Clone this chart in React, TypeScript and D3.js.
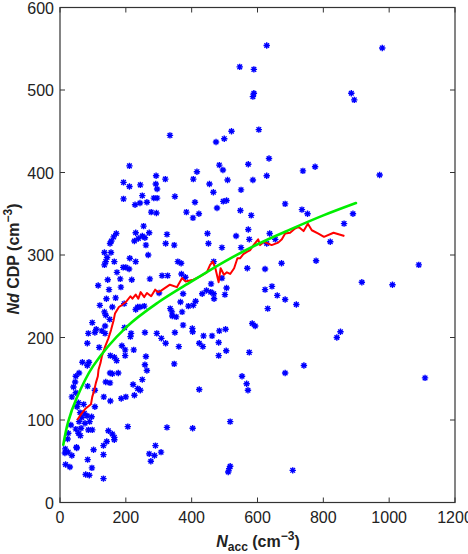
import React from 'react';
import * as d3 from 'd3';

// scatter: [N_acc, Nd CDP]
const points: [number, number][] = [
  // right part
  [628, 554], [979, 551], [885, 496], [894, 488], [635, 417], [628, 396], [738, 402], [775, 407],
  [971, 397], [684, 362], [735, 355], [752, 350], [890, 350], [863, 338], [821, 316], [637, 326],
  [628, 314], [654, 319], [778, 293], [623, 283], [673, 290], [1090, 288], [917, 267], [1010, 264],
  [644, 262], [623, 258], [660, 251], [684, 246], [631, 235], [718, 240], [852, 207], [841, 200],
  [741, 166], [684, 157], [1109, 151], [707, 39],
  // upper middle
  [546, 528], [589, 525], [589, 496], [586, 492], [334, 445], [521, 450], [604, 452], [499, 441],
  [474, 437], [484, 409], [495, 403], [416, 401], [572, 410], [320, 392], [405, 392], [454, 386],
  [509, 391], [586, 391], [550, 379],
  // middle
  [349, 371], [466, 376], [410, 364], [496, 365], [506, 366], [477, 357], [548, 354], [384, 352],
  [404, 345], [422, 350], [581, 348], [572, 331], [325, 325], [448, 326], [535, 323], [321, 314],
  [347, 312], [451, 314], [492, 309], [575, 319], [550, 309], [358, 292], [368, 290], [467, 292],
  [310, 275], [327, 275], [369, 277], [381, 273], [569, 284], [492, 272], [506, 260], [459, 265],
  [374, 253], [432, 253], [445, 257], [458, 255], [467, 253], [468, 247], [501, 252], [366, 243],
  [412, 244], [390, 238], [405, 239], [335, 235], [340, 231], [371, 231], [341, 226], [353, 225],
  [584, 217], [593, 214], [349, 206], [402, 211], [403, 207], [374, 215], [503, 210], [484, 208],
  [436, 202], [462, 202], [308, 199], [321, 193], [423, 193], [482, 194],
  // lower middle
  [361, 189], [434, 189], [482, 178], [505, 184], [575, 182], [347, 168], [553, 153], [567, 144],
  [571, 136], [423, 137], [517, 98], [325, 91], [403, 90], [307, 61], [517, 44], [514, 41], [511, 37],
  // bottom left
  [16, 65], [25, 61], [15, 60], [36, 57], [51, 66], [17, 46], [30, 43], [84, 52], [102, 64],
  [97, 42], [78, 34], [89, 33], [132, 58], [132, 69], [132, 29], [142, 74], [165, 76], [271, 59],
  [290, 69], [287, 57], [276, 50],
  // left, low
  [86, 205], [106, 206], [137, 205], [216, 205], [258, 206], [294, 205], [83, 193], [119, 188],
  [188, 190], [198, 185], [224, 185], [198, 178], [153, 178], [165, 176], [261, 177], [68, 170],
  [88, 170], [83, 166], [172, 172], [258, 167], [48, 153], [58, 157], [152, 157], [159, 156],
  [177, 157], [264, 160], [46, 146], [41, 140], [84, 141], [139, 146], [152, 145], [250, 149],
  [222, 143], [236, 138], [244, 136], [48, 133], [36, 128], [106, 136], [133, 128], [153, 123],
  [200, 128], [186, 126], [226, 130], [56, 121], [52, 116], [72, 119], [106, 116], [61, 109],
  [74, 108], [82, 105], [96, 104], [66, 103], [58, 98], [76, 96], [90, 98], [98, 88], [86, 88],
  [64, 90], [48, 89], [56, 84], [62, 81], [33, 94], [25, 84], [147, 87], [159, 83], [165, 79],
  [206, 92], [23, 77], [50, 67],
  // left, high
  [193, 388], [211, 383], [244, 385], [291, 386], [295, 380], [193, 368], [250, 372], [228, 361],
  [243, 363], [264, 364], [285, 369], [295, 369], [277, 352], [293, 351], [254, 335], [230, 327],
  [250, 323], [271, 327], [171, 326], [163, 322], [156, 317], [152, 314], [226, 317], [238, 320],
  [258, 321], [261, 312], [135, 303], [155, 303], [143, 297], [139, 292], [135, 288], [165, 292],
  [212, 296], [230, 292], [268, 300], [173, 279], [192, 285], [200, 285], [210, 283], [116, 263],
  [145, 270], [183, 271], [218, 270], [149, 258], [185, 261], [273, 271], [301, 254], [121, 239],
  [141, 247], [169, 248], [135, 231], [139, 227], [159, 237], [195, 241], [236, 237], [243, 237],
  [256, 238], [230, 234], [98, 218], [110, 210], [127, 208], [151, 222], [137, 214], [196, 212],
  [214, 201], [211, 408], [292, 396],
];

// running median (red)
const medianLine: [number, number][] = [
  [52, 100], [66, 108], [78, 114], [94, 119], [98, 128], [104, 136], [109, 145], [115, 153],
  [117, 161], [123, 169], [127, 177], [137, 189], [147, 199], [155, 209], [163, 221], [167, 229],
  [179, 237], [187, 239], [200, 243], [214, 250], [220, 247], [230, 252], [238, 247], [245, 255],
  [256, 249], [264, 254], [277, 250], [289, 258], [298, 255], [304, 256], [315, 259], [334, 264],
  [355, 261], [371, 272], [381, 268], [405, 270], [426, 274], [446, 279], [456, 288], [464, 292],
  [472, 284], [482, 267], [488, 284], [498, 276], [507, 279], [517, 277], [529, 284], [539, 296],
  [547, 296], [557, 301], [569, 304], [578, 306], [588, 312], [602, 319], [608, 312], [620, 316],
  [643, 312], [663, 315], [674, 319], [684, 326], [699, 327], [714, 332], [725, 334], [740, 329],
  [753, 338], [765, 330], [785, 326], [802, 322], [831, 327], [864, 323],
];

// fitted curve (green)
const fitLine: [number, number][] = [
  [10, 70], [25, 98], [50, 126], [100, 165], [200, 212], [300, 243], [400, 268], [500, 292],
  [600, 313], [700, 331], [800, 348], [899, 363],
];

const xTicks = [0, 200, 400, 600, 800, 1000, 1200];
const yTicks = [0, 100, 200, 300, 400, 500, 600];

const W = 468;
const H = 554;
const left = 60, right = 455, top = 7.5, bottom = 502.5;

const App = () => {
  const x = d3.scaleLinear().domain([0, 1200]).range([left, right]);
  const y = d3.scaleLinear().domain([0, 600]).range([bottom, top]);

  const line = d3.line<[number, number]>().x(d => x(d[0])).y(d => y(d[1]));
  const smooth = d3.line<[number, number]>().x(d => x(d[0])).y(d => y(d[1])).curve(d3.curveCatmullRom);

  const r = 3.2, q = 2.3;
  const star = `M${-r},0H${r}M0,${-r}V${r}M${-q},${-q}L${q},${q}M${-q},${q}L${q},${-q}`;

  const font = '"Liberation Sans", Arial, Helvetica, sans-serif';
  const axisColor = '#333';

  return (
    <svg width={W} height={H} style={{ position: 'absolute', left: 0, top: 0 }} fontFamily={font}>
      <rect x={0} y={0} width={W} height={H} fill="#fff" />

      {points.map((d, i) => (
        <path key={i} d={star} transform={`translate(${x(d[0])},${y(d[1])})`}
          stroke="#0000ff" strokeWidth={1.4} fill="none" />
      ))}

      <path d={line(medianLine) ?? ''} fill="none" stroke="#ff0000" strokeWidth={2} strokeLinejoin="round" />
      <path d={smooth(fitLine) ?? ''} fill="none" stroke="#00ee00" strokeWidth={2.6} strokeLinecap="round" />

      <rect x={left} y={top} width={right - left} height={bottom - top} fill="none" stroke={axisColor} strokeWidth={1.2} />

      {xTicks.map(t => (
        <g key={'x' + t}>
          <line x1={x(t)} x2={x(t)} y1={bottom} y2={bottom - 5} stroke={axisColor} />
          <line x1={x(t)} x2={x(t)} y1={top} y2={top + 5} stroke={axisColor} />
          <text x={x(t)} y={bottom + 20} textAnchor="middle" fontSize={16} fill="#222">{t}</text>
        </g>
      ))}
      {yTicks.map(t => (
        <g key={'y' + t}>
          <line x1={left} x2={left + 5} y1={y(t)} y2={y(t)} stroke={axisColor} />
          <line x1={right} x2={right - 5} y1={y(t)} y2={y(t)} stroke={axisColor} />
          <text x={left - 6} y={y(t) + 6} textAnchor="end" fontSize={16} fill="#222">{t}</text>
        </g>
      ))}

      <text x={258} y={547} textAnchor="middle" fontSize={16} fontWeight="bold" fill="#222">
        <tspan fontStyle="italic">N</tspan>
        <tspan fontSize={12} dy={4}>acc</tspan>
        <tspan dy={-4}> (cm</tspan>
        <tspan fontSize={12} dy={-7}>−3</tspan>
        <tspan dy={7}>)</tspan>
      </text>

      <text transform={`translate(19,259) rotate(-90)`} textAnchor="middle" fontSize={16} fontWeight="bold" fill="#222">
        <tspan fontStyle="italic">Nd</tspan>
        <tspan> CDP (cm</tspan>
        <tspan fontSize={12} dy={-7}>−3</tspan>
        <tspan dy={7}>)</tspan>
      </text>
    </svg>
  );
};

export default App;
